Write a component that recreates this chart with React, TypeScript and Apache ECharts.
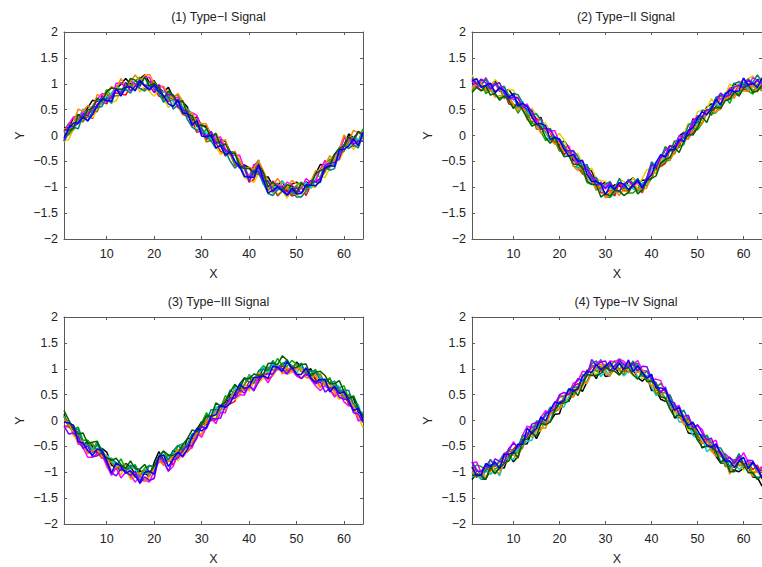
import React, { useEffect, useRef } from "react";
import * as echarts from "echarts";

const X_TICKS = [10, 20, 30, 40, 50, 60];
const TITLES = ["(1) Type−I Signal", "(2) Type−II Signal", "(3) Type−III Signal", "(4) Type−IV Signal"];

// Centre of each bundle (x = 1..64)
const MEAN_1 = [
  0.02, 0.1, 0.18, 0.3, 0.38, 0.42, 0.5, 0.6, 0.68, 0.74, 0.78, 0.86, 0.9, 0.93, 0.97, 0.98,
  1.0, 1.02, 0.98, 0.94, 0.9, 0.76, 0.74, 0.68, 0.64, 0.52, 0.44, 0.3, 0.22, 0.12, 0.02, -0.02,
  -0.1, -0.18, -0.26, -0.36, -0.46, -0.55, -0.66, -0.8, -0.7, -0.62, -0.86, -0.97, -1.0, -1.03, -1.02, -1.06,
  -1.05, -1.06, -1.02, -1.0, -0.94, -0.87, -0.76, -0.62, -0.56, -0.48, -0.34, -0.18, -0.12, -0.1, -0.08, 0.0,
];
const MEAN_2 = [
  1.0, 0.98, 0.97, 0.96, 0.92, 0.9, 0.88, 0.8, 0.74, 0.68, 0.62, 0.56, 0.46, 0.36, 0.26, 0.18,
  0.08, 0.0, -0.06, -0.16, -0.24, -0.34, -0.44, -0.54, -0.62, -0.74, -0.84, -0.92, -1.0, -1.06, -1.04, -1.06,
  -1.0, -1.0, -0.98, -0.96, -0.98, -0.98, -0.86, -0.7, -0.6, -0.5, -0.4, -0.32, -0.24, -0.16, -0.04, 0.06,
  0.16, 0.26, 0.36, 0.44, 0.52, 0.58, 0.66, 0.74, 0.8, 0.86, 0.92, 0.97, 0.96, 0.97, 0.98, 1.0,
];
const MEAN_3 = [
  0.0, -0.1, -0.2, -0.32, -0.45, -0.52, -0.57, -0.58, -0.64, -0.76, -0.89, -0.9, -0.92, -0.95, -0.98, -1.02,
  -1.08, -1.04, -1.05, -0.96, -0.7, -0.76, -0.8, -0.72, -0.64, -0.58, -0.51, -0.38, -0.25, -0.14, -0.03, 0.06,
  0.13, 0.22, 0.32, 0.42, 0.51, 0.6, 0.67, 0.72, 0.76, 0.84, 0.9, 0.92, 1.0, 1.02, 1.03, 1.04,
  1.0, 0.98, 0.96, 0.92, 0.86, 0.82, 0.76, 0.72, 0.67, 0.62, 0.57, 0.5, 0.41, 0.3, 0.16, 0.02,
];
const MEAN_4 = [
  -0.95, -1.0, -1.05, -0.98, -0.92, -0.9, -0.89, -0.78, -0.67, -0.62, -0.57, -0.42, -0.29, -0.22, -0.16, -0.06,
  0.0, 0.12, 0.22, 0.32, 0.41, 0.48, 0.57, 0.64, 0.73, 0.86, 0.99, 1.0, 1.02, 1.0, 0.99, 1.03,
  1.02, 1.0, 1.05, 1.0, 0.96, 0.92, 0.86, 0.76, 0.64, 0.56, 0.48, 0.36, 0.22, 0.12, 0.03, -0.06,
  -0.16, -0.26, -0.35, -0.43, -0.51, -0.58, -0.67, -0.78, -0.89, -0.84, -0.8, -0.84, -0.89, -0.94, -0.99, -1.08,
];
const MEANS = [MEAN_1, MEAN_2, MEAN_3, MEAN_4];

// Offset of each trace from the bundle centre
const TRACE_SHIFT = [0.08, -0.06, 0.04, -0.09, 0.02, 0.06, -0.03, -0.07, 0.1, -0.01, 0.05, -0.04];

// Point-to-point wiggle of the individual traces, in hundredths
const DEV_0 = [5,-3,8,2,-6,4,10,-2,-8,3,6,-4,1,9,-5,-10,2,7,-3,4,-7,0,11,-2,-6,5,3,-9,6,-1,8,-4,-12,2,7,-3,5,-8,1,10,-6,4,-2,9,-5,-1,6,-11,3,8,-4,2,-7,5,12,-3,-6,4,1,-9,7,-2,5,-4];
const DEV_1 = [-8,4,-2,9,-5,1,-11,6,3,-7,10,2,-4,-9,5,8,-3,-6,12,1,-8,4,-2,7,10,-5,-1,6,-10,3,-4,9,2,-7,-3,11,-6,2,8,-4,-9,6,3,-2,10,-8,1,5,-6,-2,9,-10,4,7,-5,2,-1,8,-7,3,11,-5,-3,6];
const DEV_2 = [3,10,-6,-1,7,-9,2,5,-3,11,-7,4,8,-2,-6,3,9,-10,1,6,-4,-8,5,2,12,-3,-7,1,4,-11,6,0,7,4,-9,-2,10,-5,-1,-8,6,11,-4,3,-6,7,-10,2,-3,5,8,-6,-2,10,-9,4,6,-3,-8,12,-1,2,-7,9];
const DEV_3 = [-4,-9,3,7,-2,10,-6,-3,9,1,-5,-10,6,4,-1,11,-7,2,-4,-9,8,5,-11,3,-2,7,9,-4,-1,10,-6,5,-3,-10,4,8,-1,6,-7,3,-12,-2,7,5,-3,9,4,-6,10,-1,-8,5,3,-4,6,-10,2,9,-5,-2,7,-8,4,1];
const DEV_4 = [9,1,-7,-4,11,-2,5,8,-10,-6,2,7,-3,-8,10,-1,4,9,-6,-2,-10,7,3,-5,-9,1,6,10,-7,-3,2,-8,11,-4,-6,3,9,-10,5,-2,4,-7,-11,8,1,-4,12,3,-9,-5,2,7,-10,1,9,5,-6,-1,10,-4,-8,6,-2,-6];
const DEV_5 = [-2,6,12,-8,3,-5,-9,4,7,-1,-12,9,5,-6,2,-4,-11,5,8,-7,2,10,-8,-1,4,-10,-4,8,11,-5,-9,3,-1,9,-6,-8,2,11,-4,-6,8,1,-3,-9,6,2,-7,10,4,-8,-6,11,-3,-7,4,8,-11,5,-4,7,-3,-10,9,-1];
const DEV_6 = [7,-6,-1,4,-9,8,2,-11,5,10,-2,-6,-9,7,4,-7,6,-3,-8,10,5,-6,-1,9,-4,-8,11,-2,3,7,-11,-5,6,1,-11,4,-8,5,10,-3,-2,-10,9,-6,4,-9,-3,8,-7,10,3,-3,9,-9,-2,-6,10,-7,3,-10,4,8,-5,3];
const DEV_7 = [-6,2,5,-10,8,-7,4,1,-5,8,-9,11,-1,3,-8,6,-2,-9,4,7,-1,-5,9,-10,2,9,-6,-7,-5,9,4,-2,-8,6,3,-6,-10,8,-5,6,10,-4,1,-8,-9,5,8,-3,5,-6,-10,-1,7,4,-8,10,-4,-9,8,6,-6,-1,-9,8];
const DEV_8 = [1,-11,-4,11,-1,6,-8,9,-2,-4,7,-8,10,-7,-3,9,-5,4,10,-3,-6,9,-4,-7,7,5,-10,4,-8,1,10,-9,4,-5,8,-10,6,-3,-8,9,-5,3,8,-2,-6,10,-5,-7,8,3,-3,-8,-5,9,-1,-5,7,-11,-2,9,-8,10,3,-8];
const DEV_9 = [-10,7,1,-6,5,-3,7,-5,10,-9,-3,5,-7,11,-10,-2,8,-5,-1,-10,9,-2,6,11,-8,-2,4,-10,8,-6,-3,11,-5,8,-2,6,-4,-7,9,-9,3,-6,-2,10,-8,4,5,-9,-1,6,-9,3,8,-2,-6,5,4,-3,-10,1,9,-6,-2,-10];
const DEV_10 = [4,-5,-9,6,-11,3,-3,7,-7,5,9,-1,-6,-5,8,4,-9,6,-7,2,-3,-9,7,5,-5,10,-8,3,-9,4,7,-7,9,-8,5,-4,7,-9,-3,11,-8,-1,10,-7,5,-2,-9,6,2,-10,5,-5,-7,8,3,-7,-9,6,4,-8,5,-3,11,-5];
const DEV_11 = [-3,8,10,-2,2,-10,-5,3,6,-2,-8,8,-10,4,1,-8,10,-2,-5,8,-1,5,-9,-8,9,-4,2,-5,10,-9,-1,7,-10,3,-8,9,1,-1,-9,4,-7,10,5,-10,-2,8,-1,-5,7,-3,-6,9,2,-6,-9,4,2,-8,10,-5,-4,7,-8,10];
const DEVS = [DEV_0, DEV_1, DEV_2, DEV_3, DEV_4, DEV_5, DEV_6, DEV_7, DEV_8, DEV_9, DEV_10, DEV_11];

const COLORS = ["#000000", "#ff0000", "#00b000", "#e6d000", "#00d0d0", "#ff00ff", "#808000", "#008080", "#ff8000", "#8000ff", "#006000", "#0000ff"];

const FONT = "'Liberation Sans', Arial, Helvetica, sans-serif";
const AXIS_COLOR = "#5a5a5a";
const TEXT_COLOR = "#222";
const FS = 12.5;

const GRIDS = [
  { left: 64, top: 32, width: 299, height: 207 },
  { left: 472, top: 32, width: 298, height: 207 },
  { left: 64, top: 317, width: 299, height: 207 },
  { left: 472, top: 317, width: 298, height: 207 },
];

const fmtY = (v: number) => String(v).replace("-", "−");

export default function App() {
  const ref = useRef<HTMLDivElement>(null);
  useEffect(() => {
    const chart = echarts.init(ref.current!, null, { renderer: "svg" });
    const xAxes: any[] = [];
    const yAxes: any[] = [];
    const series: any[] = [];
    const titles: any[] = [];
    GRIDS.forEach((g, i) => {
      titles.push({
        text: TITLES[i],
        left: g.left + g.width / 2,
        top: g.top - 27,
        textAlign: "center",
        textStyle: { fontFamily: FONT, fontSize: FS, fontWeight: "normal", color: TEXT_COLOR },
      });
      const line = { show: true, onZero: false, lineStyle: { color: AXIS_COLOR, width: 1 } };
      const tick = { show: true, inside: true, length: 3, lineStyle: { color: AXIS_COLOR } };
      xAxes.push({
        gridIndex: i, type: "value", position: "bottom", min: 1, max: 64,
        axisLine: line,
        axisTick: { ...tick, customValues: X_TICKS },
        axisLabel: { customValues: X_TICKS, fontFamily: FONT, fontSize: FS, color: TEXT_COLOR, margin: 8 },
        splitLine: { show: false },
        name: "X", nameLocation: "middle", nameGap: 28,
        nameTextStyle: { fontFamily: FONT, fontSize: FS, color: TEXT_COLOR },
      });
      xAxes.push({
        gridIndex: i, type: "value", position: "top", min: 1, max: 64,
        axisLine: line,
        axisTick: { ...tick, customValues: X_TICKS },
        axisLabel: { show: false },
        splitLine: { show: false },
      });
      yAxes.push({
        gridIndex: i, type: "value", position: "left", min: -2, max: 2, interval: 0.5,
        axisLine: line, axisTick: tick,
        axisLabel: { formatter: fmtY, fontFamily: FONT, fontSize: FS, color: TEXT_COLOR, margin: 6 },
        splitLine: { show: false },
        name: "Y", nameLocation: "middle", nameGap: 38,
        nameTextStyle: { fontFamily: FONT, fontSize: FS, color: TEXT_COLOR },
      });
      yAxes.push({
        gridIndex: i, type: "value", position: "right", min: -2, max: 2, interval: 0.5,
        axisLine: line, axisTick: tick,
        axisLabel: { show: false },
        splitLine: { show: false },
      });
      const mean = MEANS[i];
      DEVS.forEach((_, j) => {
        const dev = DEVS[(j + 3 * i) % DEVS.length];
        const shift = TRACE_SHIFT[(j + 5 * i) % TRACE_SHIFT.length];
        series.push({
          type: "line",
          xAxisIndex: 2 * i,
          yAxisIndex: 2 * i,
          symbol: "none",
          lineStyle: { width: 1.5, color: COLORS[j] },
          data: mean.map((m, k) => [k + 1, Math.round((m + shift + dev[k] / 100) * 100) / 100]),
        });
      });
    });
    chart.setOption({
      animation: false,
      backgroundColor: "#fff",
      title: titles,
      grid: GRIDS.map((g) => ({ ...g, containLabel: false })),
      xAxis: xAxes,
      yAxis: yAxes,
      series,
    });
    return () => chart.dispose();
  }, []);
  return <div ref={ref} style={{ position: "absolute", left: 0, top: 0, width: 762, height: 567 }} />;
}
